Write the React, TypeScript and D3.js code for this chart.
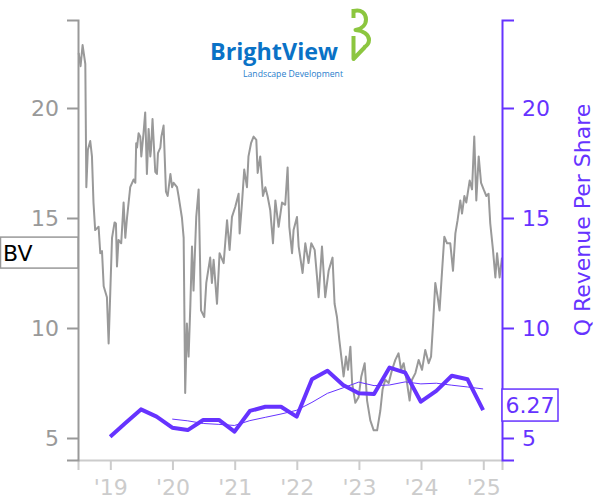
import React, { useEffect, useRef } from "react";
import * as d3 from "d3";

// ---- Data ----
const priceDates: string[] = [
  "2018-06-29","2018-07-10","2018-07-22","2018-08-07","2018-08-13","2018-08-22","2018-09-05","2018-09-15","2018-09-24","2018-10-04",
  "2018-10-24","2018-11-03","2018-11-13","2018-11-23","2018-12-12","2018-12-22","2019-01-01","2019-01-11","2019-01-26","2019-02-03",
  "2019-02-09","2019-02-18","2019-03-06","2019-03-20","2019-03-30","2019-04-09",
  "2019-04-28","2019-05-18","2019-05-28","2019-06-02","2019-06-07","2019-06-16","2019-06-26","2019-07-02","2019-07-15","2019-07-25",
  "2019-08-04","2019-08-14","2019-08-24","2019-08-28","2019-09-06","2019-09-22","2019-10-02","2019-10-08","2019-10-22","2019-10-28",
  "2019-11-10","2019-11-24","2019-12-04","2019-12-20","2019-12-30","2020-01-08","2020-01-28","2020-02-06","2020-02-16","2020-02-26",
  "2020-03-07","2020-03-16",
  "2020-03-26","2020-04-05","2020-04-15","2020-04-25","2020-05-04","2020-05-20","2020-06-03","2020-06-17","2020-07-06","2020-07-18",
  "2020-08-10","2020-08-20","2020-08-30","2020-09-19","2020-10-04","2020-10-28","2020-11-17","2020-12-02","2020-12-16","2021-01-04",
  "2021-01-24","2021-01-30","2021-02-13","2021-02-26","2021-03-14","2021-03-23","2021-04-07","2021-04-22","2021-05-08","2021-05-16",
  "2021-05-31","2021-06-16","2021-06-30","2021-07-13","2021-07-29","2021-08-14","2021-08-28","2021-09-16","2021-10-06","2021-10-25",
  "2021-11-08","2021-11-18","2021-12-04","2021-12-13","2022-01-02","2022-01-12","2022-02-04","2022-02-20","2022-03-11","2022-03-27",
  "2022-04-16","2022-04-30","2022-05-09","2022-05-29","2022-06-17","2022-07-07","2022-07-30","2022-08-11","2022-08-25","2022-09-08",
  "2022-09-24","2022-10-03","2022-10-17","2022-10-29","2022-11-12","2022-11-22","2022-12-11","2022-12-30","2023-01-15","2023-02-04",
  "2023-02-18","2023-03-09","2023-03-29","2023-04-18","2023-05-07","2023-05-20","2023-06-05","2023-06-25","2023-07-15","2023-08-03",
  "2023-08-22","2023-09-06","2023-09-21","2023-10-11","2023-10-26","2023-11-09","2023-11-29","2023-12-18","2024-01-07","2024-01-26",
  "2024-02-15","2024-02-29","2024-03-12","2024-03-25","2024-04-08","2024-04-19","2024-05-03","2024-05-17","2024-06-02","2024-06-21",
  "2024-07-07","2024-07-21","2024-08-03","2024-08-19","2024-08-29","2024-09-12","2024-09-23","2024-10-13","2024-10-27","2024-11-09",
  "2024-11-21","2024-12-05","2024-12-19","2025-01-03","2025-01-19","2025-02-01","2025-02-11","2025-02-27","2025-03-13","2025-03-23",
  "2025-04-07","2025-04-21"
];
const priceValues: number[] = [
  22.5,21.9,22.86,22.0,16.4,18.1,18.5,17.8,15.7,14.45,
  14.6,13.4,13.5,11.9,11.4,9.3,11.7,14.1,14.8,14.75,
  12.8,14.0,13.85,15.7,14.1,15.0,
  16.4,16.75,16.6,18.4,18.2,18.85,18.7,17.8,18.85,19.8,
  17.0,19.05,17.8,18.1,19.5,17.1,17.0,17.95,18.2,18.7,
  19.2,16.2,16.0,17.0,16.4,16.6,16.4,16.0,15.5,15.0,
  14.1,7.05,
  10.2,8.7,10.95,13.7,11.7,15.05,16.3,10.8,10.5,12.05,
  13.2,12.05,13.1,11.1,13.4,12.95,14.9,13.55,15.05,15.5,
  16.1,14.3,15.7,17.2,16.4,17.8,18.4,18.7,18.55,17.05,
  17.8,16.0,16.4,16.0,15.35,13.85,15.8,14.6,15.7,15.6,
  17.3,14.6,13.4,14.45,15.05,13.7,12.5,13.85,12.95,13.85,
  13.55,12.3,11.4,13.7,11.4,12.6,13.2,11.1,10.5,9.45,
  8.4,7.8,8.7,8.1,9.15,7.5,6.6,6.85,7.8,8.4,
  6.7,5.8,5.35,5.35,6.25,7.2,7.65,7.5,8.1,8.55,
  8.85,8.1,8.4,7.5,6.7,7.65,7.95,8.55,8.1,9.0,
  8.4,8.7,10.2,12.05,11.4,10.8,12.5,14.15,13.85,13.85,
  12.6,14.3,14.9,15.8,15.2,16.0,15.7,16.7,16.3,18.7,
  15.8,17.8,16.6,16.3,16.0,16.1,14.75,13.55,12.3,13.4,
  12.3,13.2
];

const revDates: string[] = [
  "2018-12-31","2019-03-31","2019-06-30","2019-09-30","2019-12-31","2020-03-31","2020-06-30","2020-09-30","2020-12-31",
  "2021-03-31","2021-06-30","2021-09-30","2021-12-31","2022-03-31","2022-06-30","2022-09-30","2022-12-31",
  "2023-03-31","2023-06-30","2023-09-30","2023-12-31","2024-03-31","2024-06-30","2024-09-30","2024-12-31"
];
const revValues: number[] = [
  5.06,5.68,6.30,5.97,5.47,5.36,5.82,5.82,5.29,
  6.23,6.42,6.42,5.97,7.67,8.06,7.41,7.03,
  7.00,8.20,7.97,6.65,7.14,7.83,7.67,6.27
];
const avgDates: string[] = revDates.slice(4);
const avgValues: number[] = [
  5.86,5.78,5.66,5.62,5.57,5.79,5.94,6.09,6.26,6.62,7.03,7.28,7.54,7.38,7.41,7.55,7.46,7.49,7.40,7.32,7.23
];

const yTicks: number[] = [5, 10, 15, 20];
const xTickYears: number[] = [2019, 2020, 2021, 2022, 2023, 2024, 2025];

const tickerLabel = "BV";
const rightTitle = "Q Revenue Per Share";

const parse = d3.timeParse("%Y-%m-%d");

export default function App() {
  const leftRef = useRef<SVGGElement>(null);
  const rightRef = useRef<SVGGElement>(null);
  const bottomRef = useRef<SVGGElement>(null);

  const W = 600, H = 500;
  const left = 78, right = 502, top = 20, bottom = 460;
  const x = d3.scaleTime()
    .domain([parse("2018-06-25") as Date, parse("2025-04-21") as Date])
    .range([left, right]);
  const y = d3.scaleLinear().domain([4, 24]).range([bottom, top]);

  const purple = "#6633ff";
  const grayLine = "#999999";

  const price = priceDates.map((d, i) => ({ d: parse(d) as Date, v: priceValues[i] }));
  const rev = revDates.map((d, i) => ({ d: parse(d) as Date, v: revValues[i] }));
  const avg = avgDates.map((d, i) => ({ d: parse(d) as Date, v: avgValues[i] }));

  const line = d3.line<{ d: Date; v: number }>().x(p => x(p.d)).y(p => y(p.v));

  useEffect(() => {
    const fs = "22px";
    const ff = "DejaVu Sans, sans-serif";
    if (leftRef.current) {
      const g = d3.select(leftRef.current);
      g.call(d3.axisLeft(y).tickValues(yTicks).tickSize(11).tickPadding(8) as any);
      g.select(".domain").attr("stroke", "#999").attr("stroke-width", 2);
      g.selectAll(".tick line").attr("stroke", "#999").attr("stroke-width", 2);
      g.selectAll(".tick text").attr("fill", "#999").style("font-size", fs).style("font-family", ff);
    }
    if (rightRef.current) {
      const g = d3.select(rightRef.current);
      g.call(d3.axisRight(y).tickValues(yTicks).tickSize(12).tickPadding(8) as any);
      g.select(".domain").attr("stroke", purple).attr("stroke-width", 2);
      g.selectAll(".tick line").attr("stroke", purple).attr("stroke-width", 2);
      g.selectAll(".tick text").attr("fill", purple).style("font-size", fs).style("font-family", ff);
    }
    if (bottomRef.current) {
      const g = d3.select(bottomRef.current);
      const fmt = d3.timeFormat("%y");
      g.call(
        d3.axisBottom(x)
          .tickValues(xTickYears.map(yr => new Date(yr, 0, 1)))
          .tickFormat((d: any) => "'" + fmt(d))
          .tickSize(10)
          .tickPadding(9) as any
      );
      g.select(".domain").attr("stroke", "#ccc").attr("stroke-width", 2);
      g.selectAll(".tick line").attr("stroke", "#ccc").attr("stroke-width", 2);
      g.selectAll(".tick text").attr("fill", "#ccc").style("font-size", fs).style("font-family", ff);
    }
  }, []);

  const lastPrice = price[price.length - 1].v;
  const lastRev = rev[rev.length - 1].v;
  const bvCy = y(lastPrice) - 5;
  const revCy = y(lastRev) - 5;

  return (
    <svg width={W} height={H} style={{ position: "absolute", left: 0, top: 0, background: "#fff" }}
      fontFamily="DejaVu Sans, sans-serif">
      {/* logo */}
      <g>
        <text x={210} y={60} fontFamily="Open Sans, sans-serif" fontWeight={700} fontSize={23}
          fill="#0a72c6" textLength={128} lengthAdjust="spacingAndGlyphs">BrightView</text>
        <text x={243} y={76.5} fontFamily="Open Sans, sans-serif" fontSize={9.5}
          fill="#2a80cc" textLength={100} lengthAdjust="spacingAndGlyphs">Landscape Development</text>
        <g fill="none" stroke="#8cc63f" strokeWidth={4} strokeLinejoin="round">
          <path d="M353.5,9 L353.5,18" />
          <path d="M353.5,11 C361,9 366,13 366,19.5 C366,25.5 361,29 355.5,30 C363,30.5 369,34.5 369,40 C369,44 366.5,46 364,47.5" />
          <path d="M353.5,36 L353.5,59 L365,47" />
        </g>
      </g>

      <path d={line(price) || ""} fill="none" stroke={grayLine} strokeWidth={2} strokeLinejoin="round" />
      <path d={line(avg) || ""} fill="none" stroke={purple} strokeWidth={1} />
      <path d={line(rev) || ""} fill="none" stroke={purple} strokeWidth={4} strokeLinejoin="round" />

      <g ref={bottomRef} transform={`translate(0,${bottom})`} />
      <g ref={leftRef} transform={`translate(${left},0)`} />
      <g ref={rightRef} transform={`translate(${right},0)`} />

      {/* ticker label */}
      <rect x={0.5} y={bvCy - 15.5} width={left - 0.5} height={31} fill="#fff" stroke="#999" strokeWidth={1.5} />
      <text x={3} y={bvCy + 8} fontSize={22} fill="#000">{tickerLabel}</text>

      {/* last value label */}
      <rect x={right} y={revCy - 16} width={56} height={32} fill="#fff" stroke={purple} strokeWidth={1.5} />
      <text x={right + 3.5} y={revCy + 8} fontSize={22} fill={purple}>{lastRev.toFixed(2)}</text>

      <text transform={`translate(590,220) rotate(-90)`} textAnchor="middle" fontSize={22} fill={purple}>{rightTitle}</text>
    </svg>
  );
}
